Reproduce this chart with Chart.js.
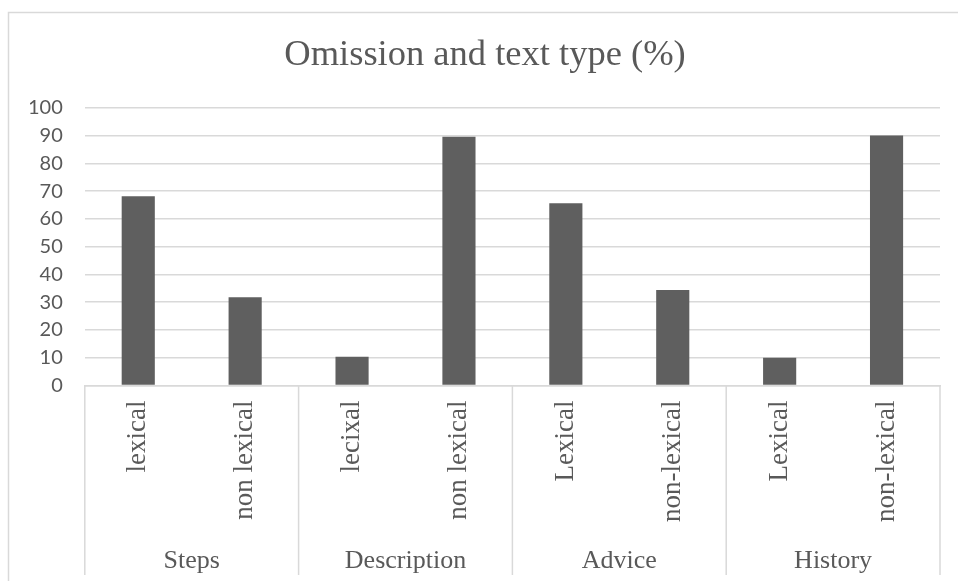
<!DOCTYPE html>
<html>
<head>
<meta charset="utf-8">
<script src="https://cdn.jsdelivr.net/npm/chart.js@4/dist/chart.umd.min.js"></script>
<style>
  html, body { margin: 0; padding: 0; background: #ffffff; }
  #wrap { position: relative; width: 958px; height: 581px; }
</style>
</head>
<body>
<div id="wrap"><canvas id="c" width="958" height="581"></canvas></div>
<script>
// ---- data ----
const chartTitle = 'Omission and text type (%)';
const subCategories = ['lexical', 'non lexical', 'lecixal', 'non lexical', 'Lexical', 'non-lexical', 'Lexical', 'non-lexical'];
const groupLabels = ['Steps', 'Description', 'Advice', 'History'];
const omissionValues = [68.2, 31.8, 10.4, 89.6, 65.6, 34.4, 10, 90];
const yTickMin = 0;
const yTickMax = 100;
const yTickStep = 10;

const TEXT = '#595959';
const GRID = '#d9d9d9';

const frameBorder = {
  id: 'frameBorder',
  afterDraw(chart) {
    const ctx = chart.ctx;
    ctx.save();
    ctx.strokeStyle = GRID;
    ctx.lineWidth = 1.5;
    ctx.beginPath();
    ctx.moveTo(8.5, chart.height + 2);
    ctx.lineTo(8.5, 12.5);
    ctx.lineTo(chart.width + 2, 12.5);
    ctx.stroke();
    ctx.restore();
  }
};

const groupDividers = {
  id: 'groupDividers',
  afterDraw(chart) {
    const x = chart.scales.x;
    const x2 = chart.scales.x2;
    const ctx = chart.ctx;
    const per = subCategories.length / groupLabels.length;
    const xs = [x.left];
    for (let g = 1; g < groupLabels.length; g++) {
      const i = g * per;
      xs.push((x.getPixelForValue(i - 1) + x.getPixelForValue(i)) / 2);
    }
    xs.push(x.right);
    ctx.save();
    ctx.strokeStyle = GRID;
    ctx.lineWidth = 1.5;
    ctx.beginPath();
    xs.forEach(px => {
      ctx.moveTo(px, chart.chartArea.bottom);
      ctx.lineTo(px, x2.bottom - 10);
    });
    ctx.stroke();
    ctx.restore();
  }
};

new Chart(document.getElementById('c'), {
  type: 'bar',
  data: {
    labels: subCategories,
    datasets: [{
      label: 'Omission (%)',
      data: omissionValues,
      backgroundColor: '#5f5f5f',
      borderWidth: 0,
      barPercentage: 0.31,
      categoryPercentage: 1.0,
      xAxisID: 'x',
      yAxisID: 'y'
    }]
  },
  options: {
    responsive: false,
    animation: false,
    devicePixelRatio: 1,
    layout: { padding: { left: 30, right: 18, top: 16, bottom: -4 } },
    plugins: {
      legend: { display: false },
      tooltip: { enabled: false },
      title: {
        display: true,
        text: chartTitle,
        color: TEXT,
        font: { family: '"Liberation Serif", "Times New Roman", serif', size: 36.5, weight: 'normal' },
        padding: { top: 18, bottom: 30 }
      }
    },
    scales: {
      y: {
        min: yTickMin,
        max: yTickMax,
        afterFit(scale) { scale.width = scale.width - 24; },
        ticks: {
          stepSize: yTickStep,
          autoSkip: false,
          color: TEXT,
          font: { family: 'Lato, "Liberation Sans", sans-serif', size: 20 },
          padding: 22
        },
        grid: { color: GRID, lineWidth: 1.5, drawTicks: false },
        border: { display: false }
      },
      x: {
        type: 'category',
        position: 'bottom',
        weight: 0,
        grid: { display: false, drawTicks: false },
        border: { display: true, color: GRID, width: 1.5 },
        ticks: {
          color: TEXT,
          font: { family: '"Liberation Serif", "Times New Roman", serif', size: 27 },
          minRotation: 90,
          maxRotation: 90,
          autoSkip: false,
          padding: 15
        }
      },
      x2: {
        type: 'category',
        position: 'bottom',
        weight: 1,
        labels: groupLabels,
        offset: true,
        grid: { display: false, drawTicks: false },
        border: { display: false },
        ticks: {
          color: TEXT,
          font: { family: '"Liberation Serif", "Times New Roman", serif', size: 26, lineHeight: 1.0 },
          maxRotation: 0,
          minRotation: 0,
          autoSkip: false,
          padding: 11
        }
      }
    }
  },
  plugins: [frameBorder, groupDividers]
});
</script>
</body>
</html>
